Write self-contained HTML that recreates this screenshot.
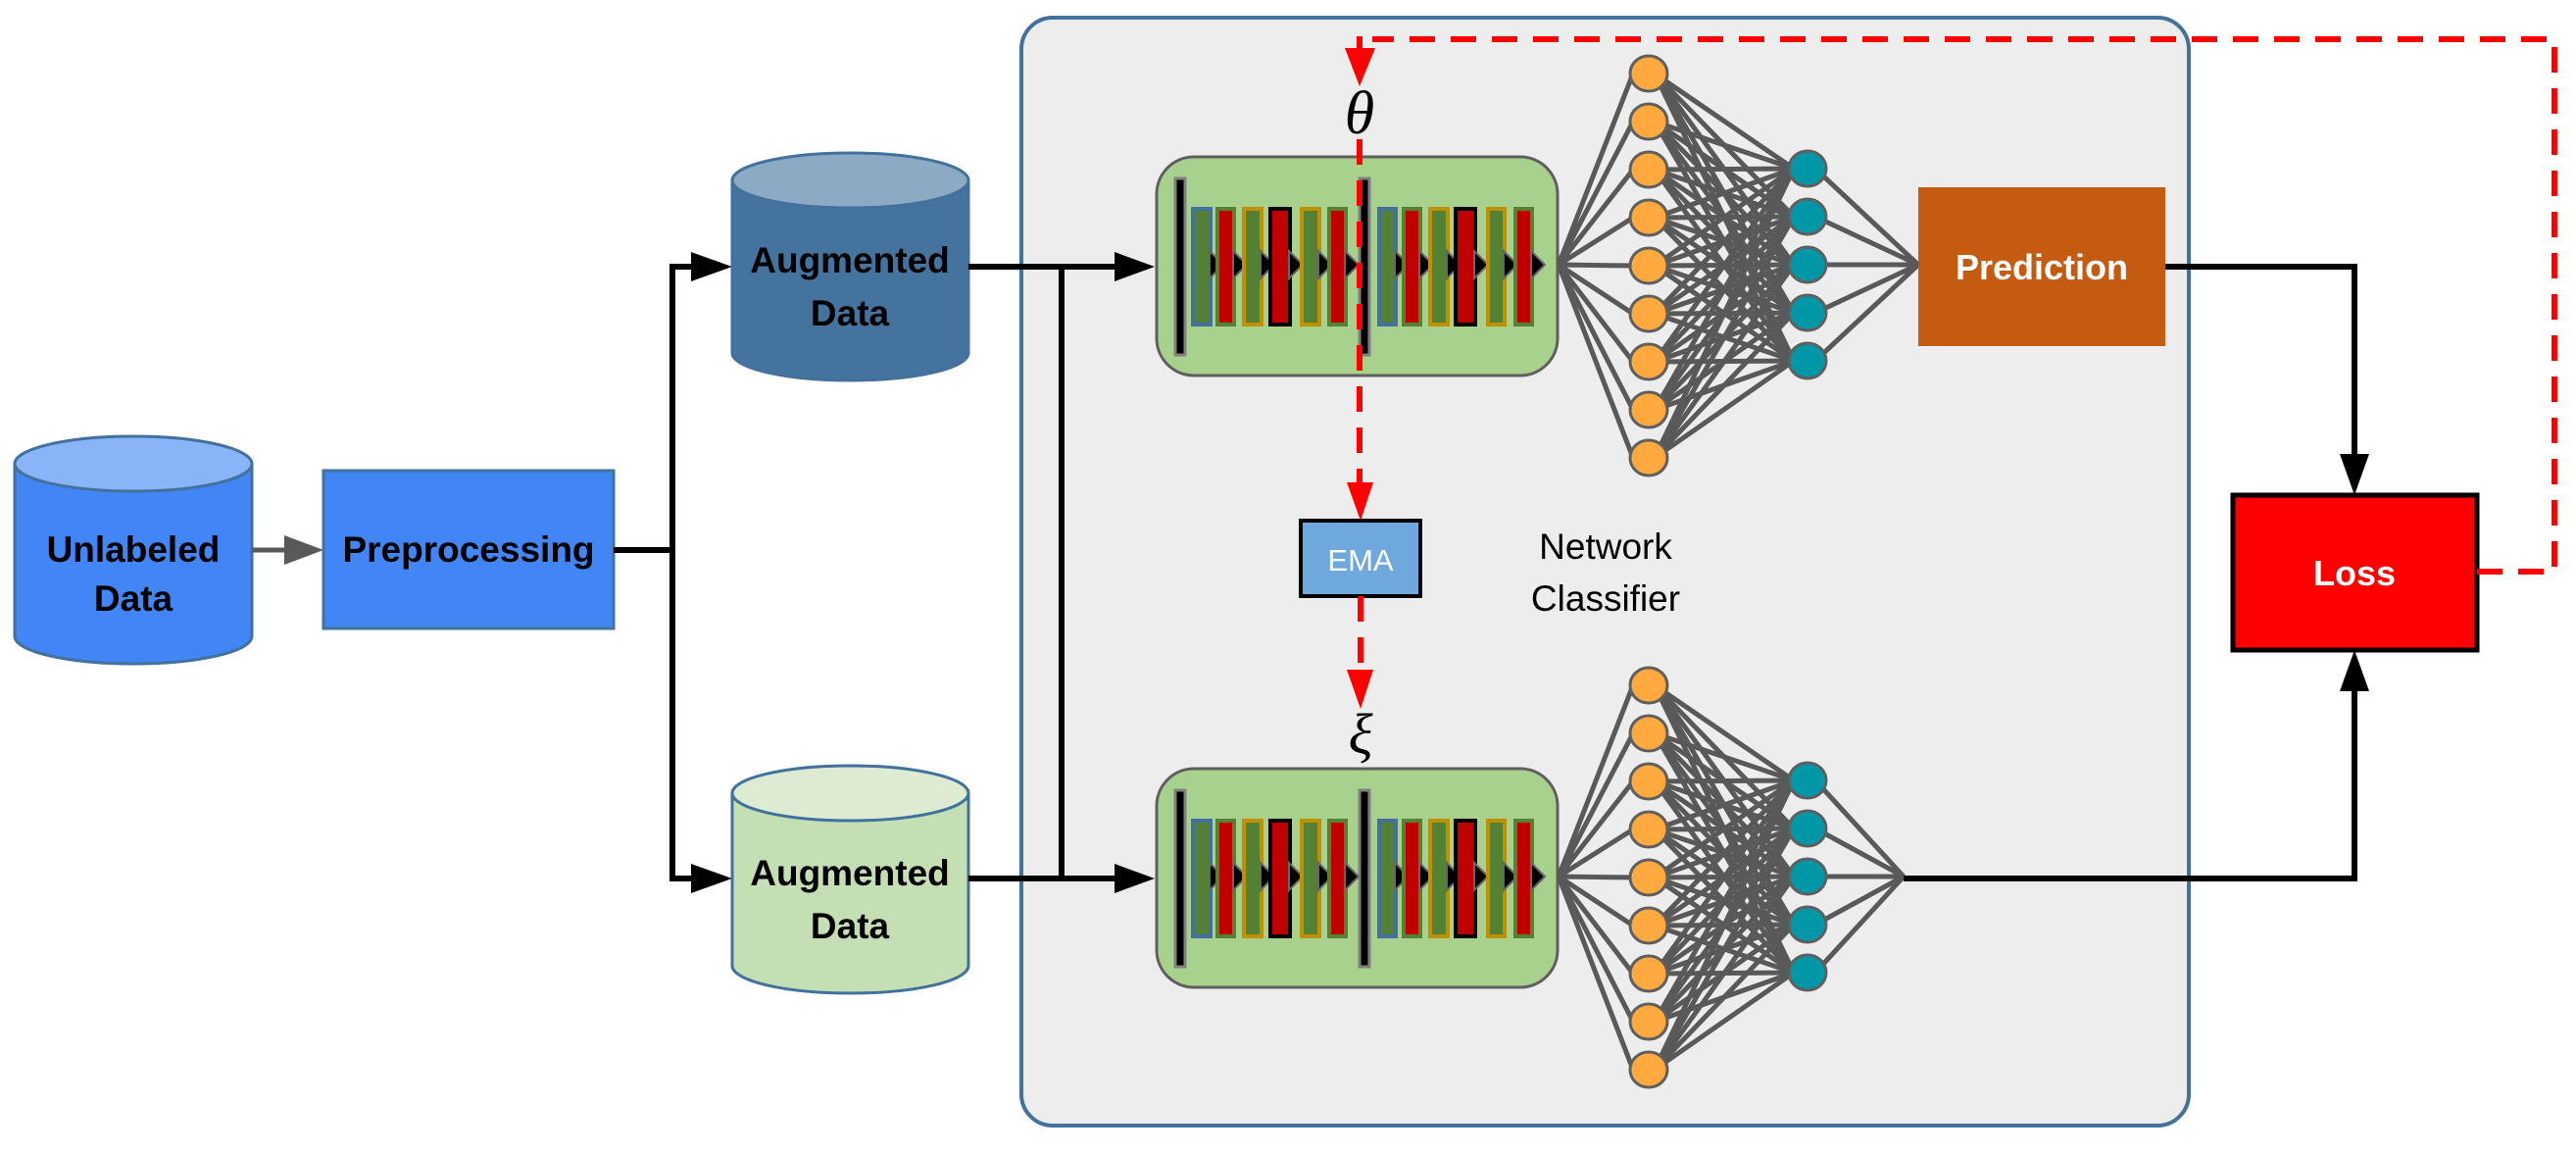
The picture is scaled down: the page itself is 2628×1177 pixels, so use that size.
<!DOCTYPE html>
<html><head><meta charset="utf-8"><style>
html,body{margin:0;padding:0;background:#fff;}
svg{display:block;}
.b{font-family:"Liberation Sans",sans-serif;font-weight:bold;}
</style></head><body>
<svg id="s" width="2628" height="1177" viewBox="0 0 2628 1177" xmlns="http://www.w3.org/2000/svg">
<rect x="1042" y="18" width="1191" height="1130" rx="32" fill="#ededed" stroke="#41719C" stroke-width="4"/>

<path d="M15,473 L15,649 A121,28 0 0 0 257,649 L257,473 Z" fill="#4285F4" stroke="#41719C" stroke-width="3"/>
<ellipse cx="136" cy="473" rx="121" ry="28" fill="#8AB4F8" stroke="#41719C" stroke-width="3"/>
<text class="b" x="136" y="573" font-size="37" text-anchor="middle">Unlabeled</text>
<text class="b" x="136" y="623" font-size="37" text-anchor="middle">Data</text>

<line x1="257" y1="561" x2="300" y2="561" stroke="#595959" stroke-width="5"/>
<polygon points="290,546 330,561 290,576" fill="#595959"/>

<rect x="330" y="480" width="296" height="161" fill="#4285F4" stroke="#41719C" stroke-width="3"/>
<text class="b" x="478" y="573" font-size="37" text-anchor="middle">Preprocessing</text>

<polyline points="626,561 686,561" fill="none" stroke="#000" stroke-width="6"/>
<polyline points="707,272 686,272 686,896 707,896" fill="none" stroke="#000" stroke-width="6"/>
<polygon points="705,257 747,272 705,287" fill="#000"/>
<polygon points="705,881 747,896 705,911" fill="#000"/>

<path d="M747,184 L747,360 A120.5,28 0 0 0 988,360 L988,184 Z" fill="#44739E" stroke="#41719C" stroke-width="3"/>
<ellipse cx="867.5" cy="184" rx="120.5" ry="28" fill="#8DAAC4" stroke="#41719C" stroke-width="3"/>
<text class="b" x="867" y="278" font-size="37" text-anchor="middle">Augmented</text>
<text class="b" x="867" y="332" font-size="37" text-anchor="middle">Data</text>

<path d="M747,809 L747,985 A120.5,28 0 0 0 988,985 L988,809 Z" fill="#C5DFB5" stroke="#41719C" stroke-width="3"/>
<ellipse cx="867.5" cy="809" rx="120.5" ry="28" fill="#DDEBD3" stroke="#41719C" stroke-width="3"/>
<text class="b" x="867" y="903" font-size="37" text-anchor="middle">Augmented</text>
<text class="b" x="867" y="957" font-size="37" text-anchor="middle">Data</text>

<line x1="988" y1="272" x2="1145" y2="272" stroke="#000" stroke-width="6"/>
<line x1="988" y1="896" x2="1145" y2="896" stroke="#000" stroke-width="6"/>
<line x1="1083" y1="272" x2="1083" y2="896" stroke="#000" stroke-width="6"/>
<polygon points="1137,257 1178,272 1137,287" fill="#000"/>
<polygon points="1137,881 1178,896 1137,911" fill="#000"/>

<g id="net"></g>

<rect x="1957" y="191" width="252" height="162" fill="#C55A11"/>
<text class="b" x="2083" y="285" font-size="36" fill="#fff" text-anchor="middle">Prediction</text>

<rect x="2278" y="505" width="249" height="158" fill="#FF0000" stroke="#000" stroke-width="5"/>
<text class="b" x="2402" y="597" font-size="36" fill="#fff" text-anchor="middle">Loss</text>

<polyline points="2209,272 2402,272 2402,470" fill="none" stroke="#000" stroke-width="6"/>
<polygon points="2387,463 2417,463 2402,505" fill="#000"/>
<polyline points="1942,896 2402,896 2402,700" fill="none" stroke="#000" stroke-width="6"/>
<polygon points="2387,705 2417,705 2402,663" fill="#000"/>

<rect x="1327" y="531" width="122" height="77" fill="#6FA8DC" stroke="#000" stroke-width="4"/>
<text x="1388" y="582" font-family="Liberation Sans,sans-serif" font-size="31" fill="#fff" text-anchor="middle">EMA</text>

<text x="1638" y="570" font-family="Liberation Sans,sans-serif" font-size="37" text-anchor="middle">Network</text>
<text x="1638" y="623" font-family="Liberation Sans,sans-serif" font-size="37" text-anchor="middle">Classifier</text>

<polyline points="2527,583 2606,583 2606,40 1400,40" fill="none" stroke="#FF0000" stroke-width="6" stroke-dasharray="26,16"/>
<line x1="1387" y1="37" x2="1387" y2="55" stroke="#FF0000" stroke-width="6"/>
<polygon points="1372,49 1403,49 1387,88" fill="#FF0000"/>
<text x="1387" y="136" font-family="Liberation Serif,serif" font-style="italic" font-size="62" text-anchor="middle">θ</text>
<line x1="1387" y1="142" x2="1387" y2="500" stroke="#FF0000" stroke-width="6" stroke-dasharray="26,16"/>
<polygon points="1374,492 1401,492 1388,531" fill="#FF0000"/>
<line x1="1388" y1="608" x2="1388" y2="690" stroke="#FF0000" stroke-width="6" stroke-dasharray="26,16"/>
<polygon points="1374,683 1401,683 1388,723" fill="#FF0000"/>
<text x="1388" y="768" font-family="Liberation Serif,serif" font-style="italic" font-size="58" text-anchor="middle">ξ</text>
</svg>
<script>
(function(){
var NS="http://www.w3.org/2000/svg",g=document.getElementById("net");
function el(t,a){var e=document.createElementNS(NS,t);for(var k in a)e.setAttribute(k,a[k]);g.appendChild(e);return e;}
var bars=[[1217,1235,"#41719C","#548235"],[1242,1259,"#548235","#C00000"],[1269,1287,"#BF9000","#548235"],[1296,1316,"#000","#C00000"],[1328,1346,"#BF9000","#548235"],[1356,1373,"#548235","#C00000"],
[1407,1424,"#41719C","#548235"],[1432,1449,"#548235","#C00000"],[1459,1477,"#BF9000","#548235"],[1485,1505,"#000","#C00000"],[1518,1535,"#BF9000","#548235"],[1546,1563,"#548235","#C00000"]];
[0,624].forEach(function(o,idx){
 var cy=270+o;
 el("rect",{x:1180,y:160+o,width:409,height:223,rx:38,fill:"#A9D18E",stroke:"#5f5f5f","stroke-width":3});
 [1204,1392].forEach(function(x){el("rect",{x:x-5,y:182+o,width:10,height:180,fill:"#000",stroke:"#808080","stroke-width":3});});
 bars.forEach(function(b){
  var w=b[1]-b[0];
  el("rect",{x:b[0],y:213+o,width:w,height:118,fill:b[3],stroke:b[2],"stroke-width":4});
  el("polygon",{points:(b[1]-1)+","+(cy-14)+" "+(b[1]+13)+","+cy+" "+(b[1]-1)+","+(cy+14),fill:"#000",stroke:"#666","stroke-width":2});
 });
 var oy=[],ty=[];
 for(var i=0;i<9;i++)oy.push(75+49*i+o);
 for(var j=0;j<5;j++)ty.push(172+49*j+o);
 var lc="#595959";
 oy.forEach(function(y){el("line",{x1:1590,y1:cy,x2:1666,y2:y,stroke:lc,"stroke-width":5});});
 var cx=idx?1942:1957;
 oy.forEach(function(y){ty.forEach(function(t){el("line",{x1:1688,y1:y,x2:1830,y2:t,stroke:lc,"stroke-width":5});});});
 ty.forEach(function(t){el("line",{x1:1852,y1:t,x2:cx,y2:cy,stroke:lc,"stroke-width":5});});
 oy.forEach(function(y){el("ellipse",{cx:1682,cy:y,rx:19,ry:18,fill:"#FFA93F",stroke:"#5f5f5f","stroke-width":3});});
 ty.forEach(function(t){el("ellipse",{cx:1844,cy:t,rx:19,ry:18,fill:"#0097A7",stroke:"#5f5f5f","stroke-width":3});});
});
})();
</script>
</body></html>
